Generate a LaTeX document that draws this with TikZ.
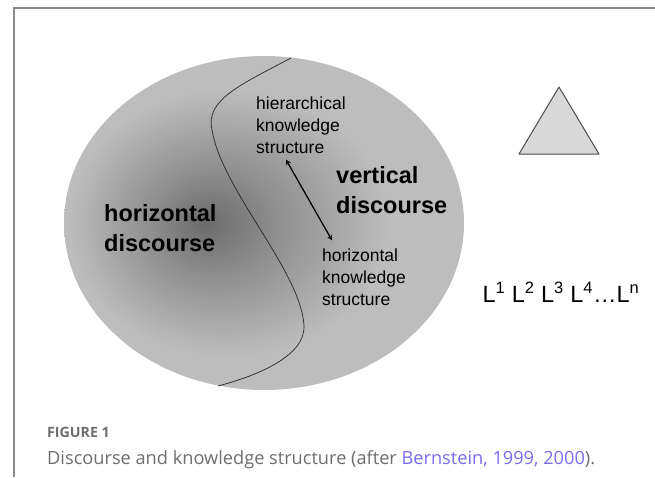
\documentclass[tikz,border=0pt]{standalone}
\usepackage{fontspec}
\setmainfont{Liberation Sans}
\newfontfamily\capfont{Open Sans}
\usetikzlibrary{arrows, positioning, calc}
\definecolor{framegray}{HTML}{8C8C8C}
\definecolor{capgray}{HTML}{6E6E6E}
\definecolor{citeblue}{HTML}{7B6CF0}
\definecolor{trifill}{HTML}{D9D9D9}
\pgfdeclareradialshading{discshade}{\pgfpoint{-7.5bp}{0bp}}{color(0bp)=(black!58); color(8bp)=(black!44); color(20bp)=(black!26); color(50bp)=(black!25)}
\tikzset{
  kstr/.style={font=\fontsize{17.5}{22}\selectfont, align=left, inner sep=0pt},
  disc/.style={font=\bfseries\fontsize{23.5}{30}\selectfont, align=left, inner sep=0pt},
  twoway/.style={<->, >=stealth, line width=1.3pt},
  border/.style={draw=framegray, line width=2pt},
  tri/.style={draw=black!70, fill=trifill, line width=1pt, line join=round}
}

\begin{document}
\begin{tikzpicture}[x=1pt, y=-1pt]
	\useasboundingbox (0,0) rectangle (655,477);
	% frame, open to the right and below
	\draw[border] (655,8) -- (14,8) -- (14,477);
	% the discourse field
	\shade[shading=discshade] (264,223) ellipse [x radius=200, y radius=167];
	\draw[black!85, line width=0.7pt] (291,58) .. controls (240,85) and (205,100) .. (212,130)
		.. controls (222,190) and (300,270) .. (304,325) .. controls (306,355) and (260,375) .. (218,386);
	\node[disc, anchor=west] (hd) at (104,228) {horizontal\\discourse};
	\node[disc, anchor=west] (vd) at (336,190) {vertical\\discourse};
	\node[kstr, anchor=west] (hks) at (256,125) {hierarchical\\knowledge\\structure};
	\node[kstr, anchor=west] (hzks) at (322,277) {horizontal\\knowledge\\structure};
	\draw[twoway] ([xshift=30pt, yshift=-6pt]hks.south west) -- ([xshift=10pt, yshift=8pt]hzks.north west);
	% languages
	\draw[tri] (559,87) -- (599,154) -- (519,154) -- cycle;
	\node[font=\fontsize{23.5}{28}\selectfont, inner sep=0pt] (lseq) at (561,292)
		{L\textsuperscript{1} L\textsuperscript{2} L\textsuperscript{3} L\textsuperscript{4}\ldots L\textsuperscript{n}};
	% caption
	\node[font=\capfont\bfseries\fontsize{14.2}{16}\selectfont, text=capgray, anchor=base west, inner sep=0pt] (fig) at (47,437) {FIGURE 1};
	\node[font=\capfont\fontsize{18.2}{20}\selectfont, text=capgray, anchor=base west, inner sep=0pt] (cap) at (47,464)
		{Discourse and knowledge structure (after \textcolor{citeblue}{Bernstein, 1999, 2000}).};
\end{tikzpicture}
\end{document}
